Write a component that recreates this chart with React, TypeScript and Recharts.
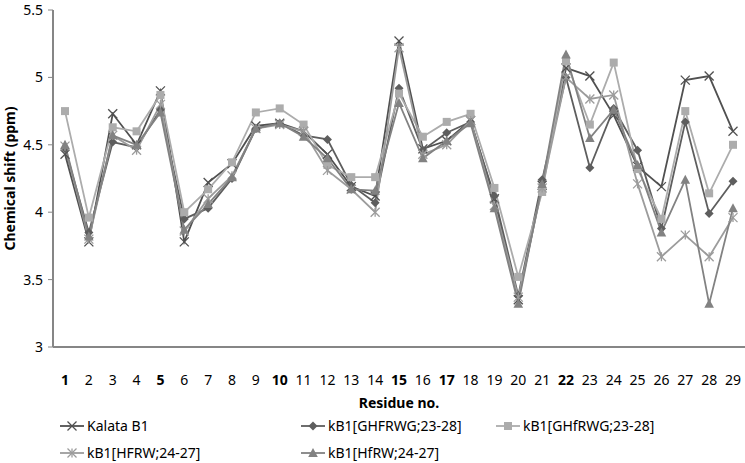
import React from "react";
import { LineChart, Line, XAxis, YAxis, Legend } from "recharts";

const residues = ["1", "2", "3", "4", "5", "6", "7", "8", "9", "10", "11", "12", "13", "14", "15", "16", "17", "18", "19", "20", "21", "22", "23", "24", "25", "26", "27", "28", "29"];
const boldResidues = ["1", "5", "10", "15", "17", "22"];

const kalataB1 = [4.43, 3.78, 4.73, 4.5, 4.9, 3.78, 4.22, 4.36, 4.64, 4.66, 4.6, 4.43, 4.19, 4.12, 5.27, 4.47, 4.53, 4.68, 4.1, 3.35, 4.2, 5.07, 5.01, 4.72, 4.34, 4.19, 4.98, 5.01, 4.6];
const ghfrwgUpper = [4.47, 3.85, 4.52, 4.48, 4.76, 3.95, 4.03, 4.25, 4.62, 4.66, 4.57, 4.54, 4.2, 4.07, 4.92, 4.46, 4.59, 4.67, 4.12, 3.38, 4.24, 5.0, 4.33, 4.77, 4.46, 3.88, 4.67, 3.99, 4.23];
const ghfrwgLower = [4.75, 3.96, 4.63, 4.6, 4.87, 4.0, 4.17, 4.37, 4.74, 4.77, 4.65, 4.35, 4.26, 4.26, 4.88, 4.56, 4.67, 4.73, 4.18, 3.52, 4.15, 5.12, 4.65, 5.11, 4.32, 3.95, 4.75, 4.14, 4.5];
const hfrwUpper = [4.49, 3.8, 4.57, 4.46, 4.8, 3.86, 4.1, 4.27, 4.62, 4.65, 4.6, 4.31, 4.17, 4.0, 5.22, 4.43, 4.5, 4.68, 4.05, 3.37, 4.18, 5.0, 4.84, 4.87, 4.21, 3.67, 3.83, 3.67, 3.96];
const hfrwLower = [4.5, 3.82, 4.57, 4.5, 4.74, 3.87, 4.06, 4.26, 4.62, 4.66, 4.56, 4.4, 4.17, 4.16, 4.81, 4.4, 4.53, 4.66, 4.03, 3.32, 4.21, 5.17, 4.55, 4.76, 4.35, 3.85, 4.24, 3.32, 4.03];

const yTicks = [3, 3.5, 4, 4.5, 5, 5.5];

const data = residues.map((r, i) => ({
  residue: r,
  kalata: kalataB1[i],
  ghfrwg: ghfrwgUpper[i],
  ghfRwg: ghfrwgLower[i],
  hfrw: hfrwUpper[i],
  hfRw: hfrwLower[i],
}));

const FONT = "'Noto Sans', sans-serif";

type MarkerKind = "cross" | "diamond" | "square" | "star" | "triangle";

const Marker = ({ kind, x, y, color }: { kind: MarkerKind; x: number; y: number; color: string }) => {
  const s = 4.5;
  if (kind === "cross")
    return (
      <g stroke={color} strokeWidth={1.3}>
        <line x1={x - s} y1={y - s} x2={x + s} y2={y + s} />
        <line x1={x - s} y1={y + s} x2={x + s} y2={y - s} />
      </g>
    );
  if (kind === "star")
    return (
      <g stroke={color} strokeWidth={1.3}>
        <line x1={x - s} y1={y - s} x2={x + s} y2={y + s} />
        <line x1={x - s} y1={y + s} x2={x + s} y2={y - s} />
        <line x1={x} y1={y - s} x2={x} y2={y + s} />
      </g>
    );
  if (kind === "diamond")
    return <polygon points={`${x},${y - s} ${x + s},${y} ${x},${y + s} ${x - s},${y}`} fill={color} />;
  if (kind === "square") return <rect x={x - 4} y={y - 4} width={8} height={8} fill={color} />;
  return <polygon points={`${x},${y - 5} ${x + 4.8},${y + 4} ${x - 4.8},${y + 4}`} fill={color} />;
};

const series: { key: string; name: string; color: string; marker: MarkerKind }[] = [
  { key: "kalata", name: "Kalata B1", color: "#505050", marker: "cross" },
  { key: "ghfrwg", name: "kB1[GHFRWG;23-28]", color: "#5e5e5e", marker: "diamond" },
  { key: "ghfRwg", name: "kB1[GHfRWG;23-28]", color: "#acacac", marker: "square" },
  { key: "hfrw", name: "kB1[HFRW;24-27]", color: "#9c9c9c", marker: "star" },
  { key: "hfRw", name: "kB1[HfRW;24-27]", color: "#828282", marker: "triangle" },
];

const legendPos = [
  { left: 60, top: 0 },
  { left: 301, top: 0 },
  { left: 496, top: 0 },
  { left: 60, top: 27 },
  { left: 301, top: 27 },
];

const renderLegend = () => (
  <div style={{ position: "relative", width: 745, height: 46 }}>
    {series.map((s, i) => (
      <div
        key={s.key}
        style={{
          position: "absolute",
          left: legendPos[i].left,
          top: legendPos[i].top,
          display: "flex",
          alignItems: "center",
          fontFamily: FONT,
          fontSize: 14,
          lineHeight: "18px",
          color: "#000",
        }}
      >
        <svg width={24} height={16} style={{ marginRight: 3 }}>
          <line x1={0} y1={8} x2={24} y2={8} stroke={s.color} strokeWidth={1.8} />
          <Marker kind={s.marker} x={12} y={8} color={s.color} />
        </svg>
        <span>{s.name}</span>
      </div>
    ))}
  </div>
);

const XTick = (props: any) => {
  const { x, y, payload } = props;
  const bold = boldResidues.includes(payload.value);
  return (
    <text x={x} y={y + 30} textAnchor="middle" fontFamily={FONT} fontSize={14} fontWeight={bold ? 700 : 400} fill="#000">
      {payload.value}
    </text>
  );
};

const App = () => {
  return (
    <div style={{ position: "absolute", left: 0, top: 0, width: 745, height: 463, background: "#fff" }}>
      <LineChart width={745} height={463} data={data} margin={{ top: 10, right: 0, left: 0, bottom: 0 }}>
        <XAxis
          dataKey="residue"
          tick={<XTick />}
          tickLine={false}
          axisLine={{ stroke: "#868686", strokeWidth: 2 }}
          height={70}
          interval={0}
          padding={{ left: 12, right: 12 }}
          label={{
            value: "Residue no.",
            position: "insideBottom",
            offset: 9,
            style: { fontFamily: FONT, fontSize: 14, fontWeight: 700, fill: "#000" },
          }}
        />
        <YAxis
          domain={[3, 5.5]}
          ticks={yTicks}
          width={53}
          tickSize={5}
          tickMargin={5}
          tickLine={{ stroke: "#868686" }}
          axisLine={{ stroke: "#868686", strokeWidth: 2 }}
          tick={{ fontFamily: FONT, fontSize: 14, fill: "#000" }}
          label={{
            value: "Chemical shift  (ppm)",
            angle: -90,
            position: "center",
            dx: -16,
            style: { fontFamily: FONT, fontSize: 14, fontWeight: 700, fill: "#000", textAnchor: "middle" },
          }}
        />
        <Legend verticalAlign="bottom" height={46} content={renderLegend} />
        {series.map((s) => (
          <Line
            key={s.key}
            dataKey={s.key}
            name={s.name}
            stroke={s.color}
            strokeWidth={1.8}
            isAnimationActive={false}
            dot={(p: any) => <Marker key={`${s.key}-${p.index}`} kind={s.marker} x={p.cx} y={p.cy} color={s.color} />}
            activeDot={false}
          />
        ))}
      </LineChart>
    </div>
  );
};

export default App;
